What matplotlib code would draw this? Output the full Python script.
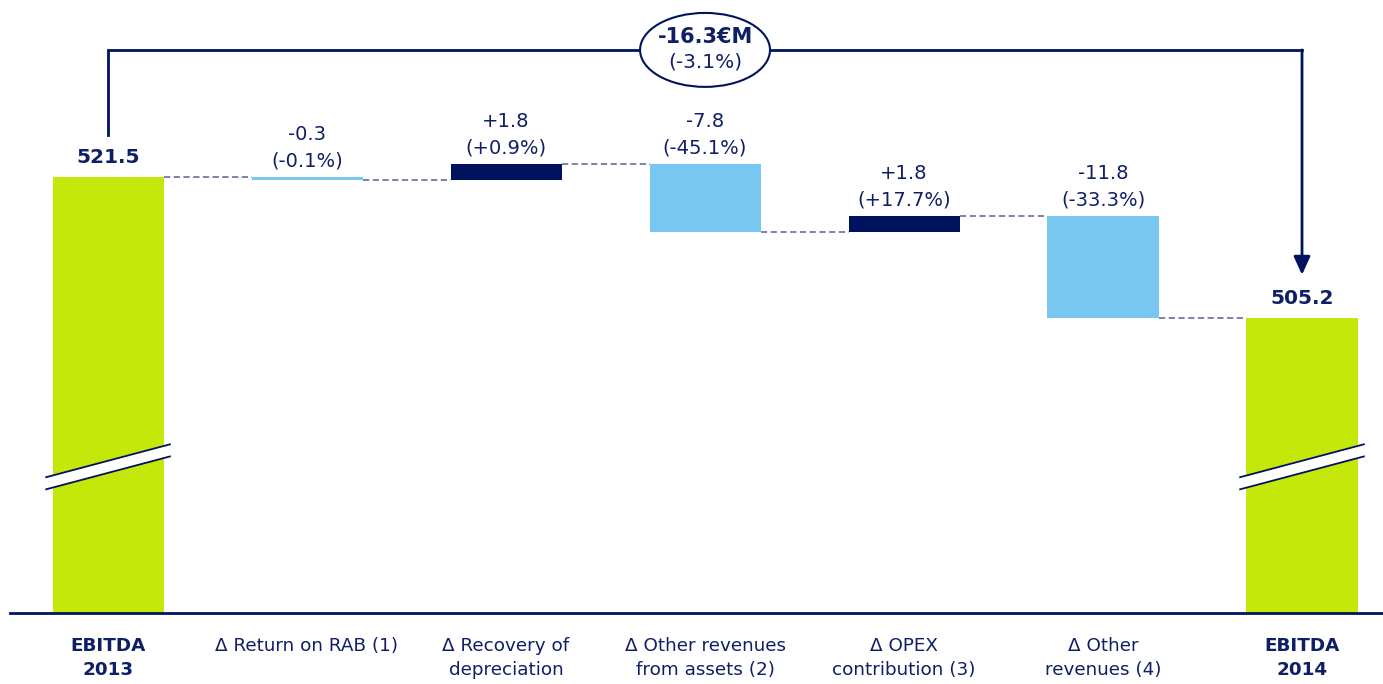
import matplotlib
matplotlib.use("Agg")
import matplotlib.pyplot as plt
from matplotlib.patches import Ellipse, Polygon

# data
categories = ["EBITDA\n2013", "\u0394 Return on RAB (1)", "\u0394 Recovery of\ndepreciation",
              "\u0394 Other revenues\nfrom assets (2)", "\u0394 OPEX\ncontribution (3)",
              "\u0394 Other\nrevenues (4)", "EBITDA\n2014"]
start_value = 521.5
deltas = [-0.3, 1.8, -7.8, 1.8, -11.8]
delta_pct = ["(-0.1%)", "(+0.9%)", "(-45.1%)", "(+17.7%)", "(-33.3%)"]
end_value = 505.2
total_label = "-16.3\u20acM"
total_pct = "(-3.1%)"

GREEN = "#c5e80b"
LIGHT = "#78c7f1"
NAVY = "#00135f"
TEXT = "#0f1f66"
DASH = "#7a83ad"

plt.rcParams['font.family'] = ['DejaVu Sans']

fig = plt.figure(figsize=(13.83, 6.84), dpi=100)
ax = fig.add_axes([0, 71 / 684, 1, 613 / 684])
ax.set_xlim(-0.543, 6.407)
ax.set_ylim(471.1, 541.97)
ax.axis("off")

width = 0.558
ymin = ax.get_ylim()[0]

# totals
for i, v in [(0, start_value), (6, end_value)]:
    ax.bar(i, v - ymin, bottom=ymin, width=width, color=GREEN, zorder=2)
    ax.annotate(f"{v:.1f}", (i, v), xytext=(0, 7), textcoords="offset points",
                ha="center", va="bottom", fontsize=14.5, fontweight="bold", color=TEXT)
    # axis break marks
    xc, yc = i, ymin + 16.9
    hw, dy, gap = 0.311, 1.9, 0.7
    ax.add_patch(Polygon([(xc - hw, yc - dy - gap), (xc + hw, yc + dy - gap),
                          (xc + hw, yc + dy + gap), (xc - hw, yc - dy + gap)],
                         closed=True, facecolor="white", edgecolor="none", zorder=3))
    for s in (-gap, gap):
        ax.plot([xc - hw, xc + hw], [yc - dy + s, yc + dy + s], color=NAVY, lw=1.3, zorder=4)

# deltas
level = start_value
levels = [start_value]
for k, d in enumerate(deltas):
    i = k + 1
    new = level + d
    color = NAVY if d > 0 else LIGHT
    ax.bar(i, d, bottom=level, width=width, color=color, zorder=2)
    top = max(level, new)
    sign = "+" if d > 0 else ""
    ax.annotate(f"{sign}{d:.1f}\n{delta_pct[k]}", (i, top), xytext=(0, 5), textcoords="offset points",
                ha="center", va="bottom", fontsize=14, color=TEXT, linespacing=1.5)
    level = new
    levels.append(level)

# connectors
for i, lv in enumerate(levels):
    ax.plot([i + width / 2, i + 1 - width / 2], [lv, lv], color=DASH, lw=1.4,
            linestyle=(0, (3.2, 1.8)), zorder=1)

# baseline
ax.axhline(ymin, xmin=10 / 1383, xmax=1, color=NAVY, lw=2, clip_on=False, zorder=5)

# category labels
for i, c in enumerate(categories):
    bold = c.startswith("EBITDA")
    ax.annotate(c, (i, 0), xycoords=("data", "axes fraction"), xytext=(0, -17),
                textcoords="offset points", ha="center", va="top", fontsize=13.2,
                fontweight="bold" if bold else "normal", color=TEXT, linespacing=1.45)

# total change bracket
y_top = start_value + 14.7
ax.plot([0, 0, 6], [start_value + 4.9, y_top, y_top], color=NAVY, lw=2,
        solid_joinstyle="miter", zorder=2)
ax.annotate("", xy=(6, end_value + 5.0), xytext=(6, y_top),
            arrowprops=dict(arrowstyle="-|>,head_length=1.1,head_width=0.5", lw=2,
                            color=NAVY, shrinkA=0, shrinkB=0), zorder=2)
ax.add_patch(Ellipse((3, y_top), 0.653, 8.55, facecolor="white", edgecolor=NAVY, lw=1.5, zorder=3))
ax.annotate(total_label, (3, y_top), xytext=(0, 9), textcoords="offset points",
            ha="center", va="center", fontsize=15, fontweight="bold", color=TEXT, zorder=4)
ax.annotate(total_pct, (3, y_top), xytext=(0, -9), textcoords="offset points",
            ha="center", va="center", fontsize=14.5, color=TEXT, zorder=4)

fig.savefig("out.png", dpi=100)
